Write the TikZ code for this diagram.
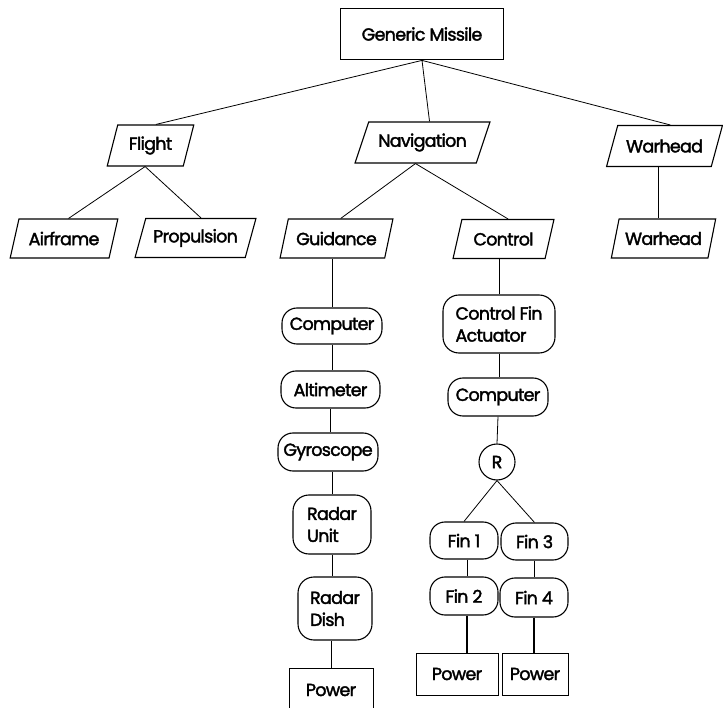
\documentclass[tikz,border=0pt]{standalone}
\usepackage{fontspec}
\setmainfont{Poppins}[LetterSpace=-4, FakeBold=2]
\usetikzlibrary{shapes.geometric}
\tikzset{
  lbl/.style={font=\fontsize{17.5}{22}\selectfont, align=left, inner sep=0pt},
  para/.style={lbl, draw, trapezium, trapezium stretches=true, line width=1.1pt,
    trapezium left angle=#1, trapezium right angle={180-#1}},
  rbox/.style={lbl, draw, rectangle, rounded corners=15pt, line width=1.1pt},
  sbox/.style={lbl, draw, rectangle, line width=0.8pt},
  topbox/.style={lbl, draw, rectangle, line width=1.8pt},
  rnode/.style={lbl, draw, circle, line width=1.1pt, minimum size=36pt},
  link/.style={line width=0.8pt},
  thick link/.style={line width=1.5pt}
}
\begin{document}
\begin{tikzpicture}[x=1pt, y=-1pt]
\useasboundingbox (0,0) rectangle (723,708);
% top
\node[topbox, minimum width=163pt, minimum height=51pt] (gm) at (422,34) {Generic Missile};
% row 1
\node[para=69, minimum width=87pt, minimum height=41pt] (flight) at (150.5,145.5) {Flight};
\node[para=58, minimum width=135pt, minimum height=41pt] (nav) at (422.5,142.5) {Navigation};
\node[para=55, minimum width=117pt, minimum height=41pt] (war1) at (664.5,146) {Warhead};
% row 2
\node[para=63, minimum width=108pt, minimum height=39pt] (air) at (64,238.5) {Airframe};
\node[para=63, minimum width=121pt, minimum height=39pt] (prop) at (195.5,238) {Propulsion};
\node[para=63, minimum width=113pt, minimum height=39pt] (guid) at (336.5,238.5) {Guidance};
\node[para=64, minimum width=101pt, minimum height=39pt] (ctrl) at (503.5,239) {Control};
\node[para=63, minimum width=105pt, minimum height=39pt] (war2) at (663.5,238.5) {Warhead};
% guidance chain
\node[rbox, minimum width=100pt, minimum height=36pt] (comp1) at (332,326) {Computer};
\node[rbox, minimum width=99pt, minimum height=37pt] (alt) at (330.5,389.5) {Altimeter};
\node[rbox, minimum width=100pt, minimum height=38pt] (gyro) at (328,452) {Gyroscope};
\node[rbox, minimum width=78pt, minimum height=59pt, rounded corners=16pt] (ru) at (332,524.5) {Radar\\Unit};
\node[rbox, minimum width=74pt, minimum height=63pt, rounded corners=16pt] (rd) at (335,608.5) {Radar\\Dish};
\node[sbox, minimum width=84pt, minimum height=44pt] (pw1) at (331,690) {Power};
% control chain
\node[rbox, minimum width=112pt, minimum height=58pt, rounded corners=16pt] (cfa) at (499,324) {Control Fin\\Actuator};
\node[rbox, minimum width=100pt, minimum height=38pt] (comp2) at (498,397) {Computer};
\node[rnode] (r) at (497,462) {R};
\node[rbox, minimum width=68pt, minimum height=37pt] (fin1) at (464,540.5) {Fin 1};
\node[rbox, minimum width=67pt, minimum height=37pt] (fin3) at (534.5,541.5) {Fin 3};
\node[rbox, minimum width=68pt, minimum height=38pt] (fin2) at (464,596) {Fin 2};
\node[rbox, minimum width=68pt, minimum height=39pt] (fin4) at (534,597.5) {Fin 4};
\node[sbox, minimum width=82pt, minimum height=42pt] (powa) at (457,674) {Power};
\node[sbox, minimum width=66pt, minimum height=42pt] (powb) at (535,674) {Power};
% connectors
\draw[link] (gm.south) -- (flight.top side);
\draw[link] (gm.south) -- (nav.top side);
\draw[link] (gm.south) -- (war1.top side);
\draw[link] (flight.bottom side) -- (air.top side);
\draw[link] (flight.bottom side) -- (prop.top side);
\draw[link] (nav.bottom side) -- (guid.top side);
\draw[link] (nav.bottom side) -- (ctrl.top side);
\draw[link] (war1.bottom side) -- (war1.bottom side |- war2.top side);
\draw[link] (comp1.north) -- (comp1.north |- guid.bottom side);
\draw[link] (comp1.south) -- (comp1.south |- alt.north);
\draw[link] (alt.south) -- (alt.south |- gyro.north);
\draw[link] (ru.north) -- (ru.north |- gyro.south);
\draw[link] (ru.south) -- (ru.south |- rd.north);
\draw[link] (pw1.north) -- (pw1.north |- rd.south);
\draw[link] (cfa.north) -- (cfa.north |- ctrl.bottom side);
\draw[link] (cfa.south) -- (cfa.south |- comp2.north);
\draw[link] (comp2.south) -- (r.north);
\draw[link] (r.south) -- (fin1.north);
\draw[link] (r.south) -- (fin3.north);
\draw[link] ([xshift=3pt]fin1.south) -- ([xshift=3pt]fin2.north);
\draw[link] (fin3.south) -- (fin3.south |- fin4.north);
\draw[thick link] ([xshift=3pt]fin2.south) -- ([xshift=3pt]fin2.south |- powa.north);
\draw[thick link] (fin4.south) -- (fin4.south |- powb.north);
\end{tikzpicture}
\end{document}
